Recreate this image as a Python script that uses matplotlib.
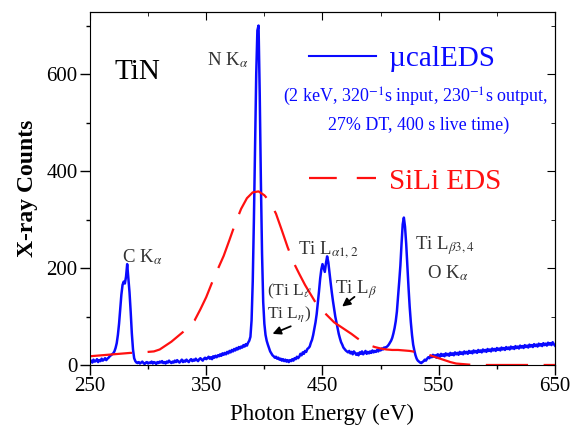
import numpy as np
import matplotlib
matplotlib.use('Agg')
import matplotlib.pyplot as plt
from matplotlib.lines import Line2D

plt.rcParams['font.family'] = ['Liberation Serif', 'DejaVu Serif']
plt.rcParams['mathtext.fontset'] = 'stix'

# microcalorimeter EDS spectrum, 1 eV per channel, 250..650 eV
energy = np.arange(250, 651)
ucal_counts = [
    6, 9, 5, 11, 7, 8, 12, 6, 10, 8,            # 250
    13, 9, 11, 14, 10, 13, 15, 18, 20, 22,      # 260
    24, 28, 35, 45, 62, 85, 115, 145, 165, 172,  # 270
    168, 182, 208, 178, 150, 110, 65, 32, 14, 8,  # 280
    5, 4, 6, 3, 5, 7, 4, 2, 5, 6,               # 290
    3, 5, 4, 7, 3, 6, 5, 2, 6, 4,               # 300
    7, 5, 8, 4, 6, 3, 7, 5, 9, 6,               # 310
    4, 7, 5, 9, 6, 10, 7, 5, 8, 11,             # 320
    6, 9, 7, 11, 8, 6, 10, 12, 8, 11,           # 330
    9, 13, 10, 8, 12, 14, 11, 9, 13, 15,        # 340
    12, 14, 17, 13, 16, 12, 18, 15, 19, 16,     # 350
    20, 18, 22, 19, 24, 21, 25, 22, 27, 24,     # 360
    29, 26, 31, 28, 33, 30, 35, 32, 37, 34,     # 370
    38, 36, 41, 38, 43, 40, 46, 50, 58, 92,     # 380
    172, 300, 450, 600, 690, 700, 560, 380, 230, 130,  # 390
    85, 62, 50, 42, 35, 28, 24, 20, 18, 15,     # 400
    17, 13, 15, 11, 13, 9, 12, 8, 11, 7,        # 410
    10, 6, 10, 8, 12, 9, 14, 12, 17, 14,        # 420
    17, 23, 20, 26, 23, 29, 27, 33, 35, 38,     # 430
    46, 52, 62, 75, 88, 105, 128, 152, 178, 197,  # 440
    208, 200, 192, 210, 224, 212, 190, 170, 150, 132,  # 450
    116, 100, 88, 76, 64, 55, 47, 42, 36, 33,   # 460
    30, 28, 26, 29, 24, 27, 22, 28, 25, 21,     # 470
    24, 20, 26, 23, 28, 22, 25, 29, 23, 27,     # 480
    24, 28, 25, 30, 26, 29, 27, 31, 28, 33,     # 490
    30, 34, 32, 36, 35, 37, 39, 42, 46, 50,     # 500
    56, 65, 76, 90, 110, 140, 172, 205, 250, 290,  # 510
    304, 285, 250, 205, 160, 120, 88, 62, 42, 30,  # 520
    20, 13, 9, 7, 5, 4, 6, 8, 11, 9,            # 530
    13, 16, 14, 19, 16, 21, 17, 20, 15, 22,     # 540
    21, 17, 23, 19, 22, 18, 24, 20, 23, 19,     # 550
    25, 21, 24, 20, 26, 22, 25, 21, 27, 23,     # 560
    26, 22, 28, 24, 27, 23, 29, 25, 28, 24,     # 570
    30, 26, 29, 25, 31, 27, 30, 26, 32, 28,     # 580
    31, 27, 33, 29, 32, 28, 34, 30, 33, 29,     # 590
    35, 31, 34, 30, 36, 32, 35, 31, 37, 33,     # 600
    36, 32, 38, 34, 37, 33, 39, 35, 38, 34,     # 610
    40, 36, 39, 35, 41, 37, 40, 36, 42, 38,     # 620
    41, 37, 43, 39, 42, 38, 44, 40, 43, 39,     # 630
    45, 41, 44, 40, 46, 42, 45, 41, 47, 43,     # 640
    40,                                         # 650
]

# SiLi EDS spectrum (read every 5 eV)
sili_energy = np.arange(250, 651, 5)
sili_counts = [
    18, 19, 20, 21, 22, 23, 24, 25, 25, 26,          # 250-295
    27, 28, 32, 40, 48, 58, 68, 80, 92, 115,         # 300-345
    140, 170, 198, 225, 258, 292, 322, 344, 356, 358,  # 350-395
    350, 336, 312, 278, 243, 212, 188, 165, 145, 125,  # 400-445
    112, 100, 88, 80, 72, 64, 55, 47, 41, 37,        # 450-495
    34, 32, 31, 31, 30, 29, 27, 25, 22, 18,          # 500-545
    14, 10, 6, 3, 2, 1, 0, 0, 0, 0,                  # 550-595
    0, 0, 0, 0, 0, 0, 0, 0, 0, 0,                    # 600-645
    0,                                               # 650
]

x_major = [250, 350, 450, 550, 650]
x_minor = [300, 400, 500, 600]
y_major = [0, 200, 400, 600]
y_minor = [100, 300, 500, 700]

fig = plt.figure(figsize=(5.75, 4.25), dpi=100)
ax = fig.add_axes([0.1565, 0.1412, 0.8087, 0.8306])

blue = '#0a0aff'
red = '#ff1010'
ax.plot(energy, ucal_counts, color=blue, lw=1.8)
ax.plot(sili_energy, sili_counts, color=red, lw=1.6, dashes=(19, 7))

ax.set_xlim(250, 650)
ax.set_ylim(0, 728)
ax.set_xticks(x_major)
ax.set_xticks(x_minor, minor=True)
ax.set_yticks(y_major)
ax.set_yticks(y_minor, minor=True)
ax.tick_params(which='major', direction='out', length=7, width=1, labelsize=15, pad=2)
ax.tick_params(which='minor', direction='out', length=3, width=1)

# inward ticks on top and right
sx = ax.secondary_xaxis('top')
sx.set_xticks(x_major)
sx.set_xticks(x_minor, minor=True)
sx.tick_params(which='major', direction='in', length=6, labeltop=False)
sx.tick_params(which='minor', direction='in', length=3)
sy = ax.secondary_yaxis('right')
sy.set_yticks(y_major)
sy.set_yticks(y_minor, minor=True)
sy.tick_params(which='major', direction='in', length=6, labelright=False)
sy.tick_params(which='minor', direction='in', length=3)

ax.set_xlabel('Photon Energy (eV)', fontsize=16.5, labelpad=5)
ax.set_ylabel('X-ray Counts', fontsize=17, fontweight='bold', labelpad=6)

# labels
lab = '#333333'
ax.text(271.5, 604, 'TiN', fontsize=21, color='black', va='center')
ax.text(350.6, 629, r'N K$_{\alpha}$', fontsize=13.5, color=lab, va='center')
ax.text(277.5, 223, r'C K$_{\alpha}$', fontsize=13.5, color=lab, va='center')
ax.text(429, 237, r'Ti L$_{\alpha1,2}$', fontsize=13.5, color=lab, va='center')
ax.text(460.8, 155, r'Ti L$_{\beta}$', fontsize=13.5, color=lab, va='center')
ax.text(402, 151, r'(Ti L$_{\ell}$', fontsize=12.5, color=lab, va='center')
ax.text(402, 104, r'Ti L$_{\eta}$)', fontsize=12.5, color=lab, va='center')
ax.text(529.6, 247, r'Ti L$_{\beta3,4}$', fontsize=13.5, color=lab, va='center')
ax.text(539.6, 190, r'O K$_{\alpha}$', fontsize=13.5, color=lab, va='center')

arrow = dict(arrowstyle='-|>', color='black', lw=1.3, mutation_scale=12)
ax.annotate('', xy=(404.8, 62), xytext=(424.9, 82), arrowprops=arrow)
ax.annotate('', xy=(465, 117), xytext=(479.4, 144), arrowprops=arrow)

# legend
handles = [Line2D([], [], color=blue, lw=1.5),
           Line2D([], [], color=red, lw=1.6, dashes=(12.5, 9))]
leg = ax.legend(handles, [u'\u00b5calEDS', 'SiLi EDS'], loc='upper left',
                bbox_to_anchor=(0.470, 0.905), frameon=False, fontsize=21,
                handlelength=2.3, handletextpad=0.45, labelspacing=3.3,
                borderpad=0, borderaxespad=0)
for t, c in zip(leg.get_texts(), [blue, red]):
    t.set_color(c)

ax.text(416, 553, r'(2 keV, 320$^{-1}$s input, 230$^{-1}$s output,',
        fontsize=13, color=blue, va='center')
ax.text(454.7, 495, '27% DT, 400 s live time)', fontsize=13, color=blue, va='center')

fig.savefig('out.png', dpi=100)
